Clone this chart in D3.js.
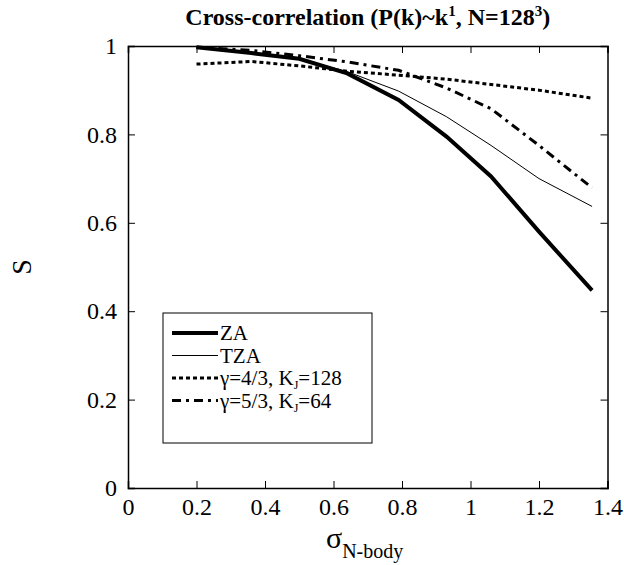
<!DOCTYPE html>
<html>
<head>
<meta charset="utf-8">
<script src="https://cdnjs.cloudflare.com/ajax/libs/d3/7.8.5/d3.min.js"></script>
<style>
  body { margin: 0; background: #fff; }
  svg text { font-family: "Liberation Serif", "Times New Roman", Times, "DejaVu Serif", serif; fill: #000; }
</style>
</head>
<body>
<div id="chart"></div>
<script>
// data
var sigma = [0.2, 0.36, 0.5, 0.64, 0.79, 0.93, 1.06, 1.2, 1.355];
var za = [0.997, 0.984, 0.971, 0.938, 0.878, 0.795, 0.705, 0.58, 0.447];
var tza = [0.997, 0.984, 0.971, 0.942, 0.898, 0.84, 0.775, 0.70, 0.637];
var gamma43 = [0.959, 0.965, 0.955, 0.943, 0.934, 0.925, 0.913, 0.90, 0.882];
var gamma53 = [0.997, 0.99, 0.978, 0.964, 0.945, 0.905, 0.858, 0.775, 0.679];

var xTicks = [0, 0.2, 0.4, 0.6, 0.8, 1, 1.2, 1.4];
var yTicks = [0, 0.2, 0.4, 0.6, 0.8, 1];

var series = [
  { name: "ZA", values: za, width: 4, dash: null },
  { name: "TZA", values: tza, width: 1, dash: null },
  { name: "γ=4/3, K_J=128", values: gamma43, width: 3, dash: "4,3" },
  { name: "γ=5/3, K_J=64", values: gamma53, width: 3, dash: "9,5,3,5" },
];

var serif = '"Liberation Serif", "Times New Roman", Times, "DejaVu Serif", serif';

var svgWidth = 624;
var svgHeight = 565;
var margin = { top: 46, right: 16.5, bottom: 77, left: 128 };
var width = svgWidth - margin.left - margin.right;
var height = svgHeight - margin.top - margin.bottom;

var svg = d3
  .select("#chart")
  .append("svg")
  .attr("width", svgWidth)
  .attr("height", svgHeight)
  .style("font-family", serif);

var chartGroup = svg
  .append("g")
  .attr("transform", `translate(${margin.left}, ${margin.top})`);

var xScale = d3.scaleLinear().domain([0, 1.4]).range([0, width]);
var yScale = d3.scaleLinear().domain([0, 1]).range([height, 0]);

// axes, ticks pointing inward on all four sides
var fmt = (d) => (d === 0 || d === 1 ? d3.format("d")(d) : d3.format(".1f")(d));

var bottomAxis = d3.axisBottom(xScale).tickValues(xTicks).tickSize(-7).tickPadding(10).tickFormat(fmt);
var leftAxis = d3.axisLeft(yScale).tickValues(yTicks).tickSize(-7).tickPadding(11).tickFormat(fmt);
var topAxis = d3.axisTop(xScale).tickValues(xTicks).tickSize(-7).tickFormat("");
var rightAxis = d3.axisRight(yScale).tickValues(yTicks).tickSize(-7).tickFormat("");

var xAxis = chartGroup.append("g").attr("transform", `translate(0, ${height})`).call(bottomAxis);
var yAxis = chartGroup.append("g").call(leftAxis);
chartGroup.append("g").call(topAxis);
chartGroup.append("g").attr("transform", `translate(${width}, 0)`).call(rightAxis);

chartGroup.selectAll("g").attr("font-family", null);
chartGroup.selectAll(".domain").attr("stroke", "#000").attr("stroke-width", 1.5);
chartGroup.selectAll(".tick line").attr("stroke", "#000").attr("stroke-width", 1);
chartGroup.selectAll(".tick text").style("font-size", "24px").style("font-family", serif);

// lines
var line = d3
  .line()
  .x((d, i) => xScale(sigma[i]))
  .y((d) => yScale(d));

series.forEach(function (s) {
  chartGroup
    .append("path")
    .datum(s.values)
    .attr("fill", "none")
    .attr("stroke", "#000")
    .attr("stroke-width", s.width)
    .attr("stroke-dasharray", s.dash)
    .attr("d", line);
});

// title
var title = svg
  .append("text")
  .attr("x", margin.left + width / 2)
  .attr("y", 25)
  .attr("text-anchor", "middle")
  .style("font-size", "24px")
  .style("font-weight", "bold");
title.append("tspan").text("Cross-correlation (P(k)~k");
title.append("tspan").attr("dy", -9).style("font-size", "15px").text("1");
title.append("tspan").attr("dy", 9).text(", N=128");
title.append("tspan").attr("dy", -9).style("font-size", "15px").text("3");
title.append("tspan").attr("dy", 9).text(")");

// x label
var xLabel = svg
  .append("text")
  .attr("x", 326)
  .attr("y", 548)
  .style("font-size", "30px");
xLabel.append("tspan").text("σ");
xLabel.append("tspan").attr("dy", 10).style("font-size", "20px").text("N-body");

// y label
svg
  .append("text")
  .attr("transform", `translate(31, ${margin.top + height / 2}) rotate(-90)`)
  .attr("text-anchor", "middle")
  .style("font-size", "28px")
  .text("S");

// legend
var legend = chartGroup.append("g").attr("transform", `translate(${163 - margin.left}, ${313 - margin.top})`);
legend
  .append("rect")
  .attr("width", 209)
  .attr("height", 130)
  .attr("fill", "#fff")
  .attr("stroke", "#000")
  .attr("stroke-width", 1);

series.forEach(function (s, i) {
  var row = legend.append("g").attr("transform", `translate(0, ${20 + i * 22.5})`);
  row
    .append("line")
    .attr("x1", 9)
    .attr("x2", 55)
    .attr("stroke", "#000")
    .attr("stroke-width", s.width)
    .attr("stroke-dasharray", s.dash);
  var t = row.append("text").attr("x", 57).attr("y", 7).style("font-size", "21px");
  var parts = s.name.split("_J");
  if (parts.length > 1) {
    t.append("tspan").text(parts[0]);
    t.append("tspan").attr("dy", 4).style("font-size", "12px").text("J");
    t.append("tspan").attr("dy", -4).text(parts[1]);
  } else {
    t.text(s.name);
  }
});
</script>
</body>
</html>
